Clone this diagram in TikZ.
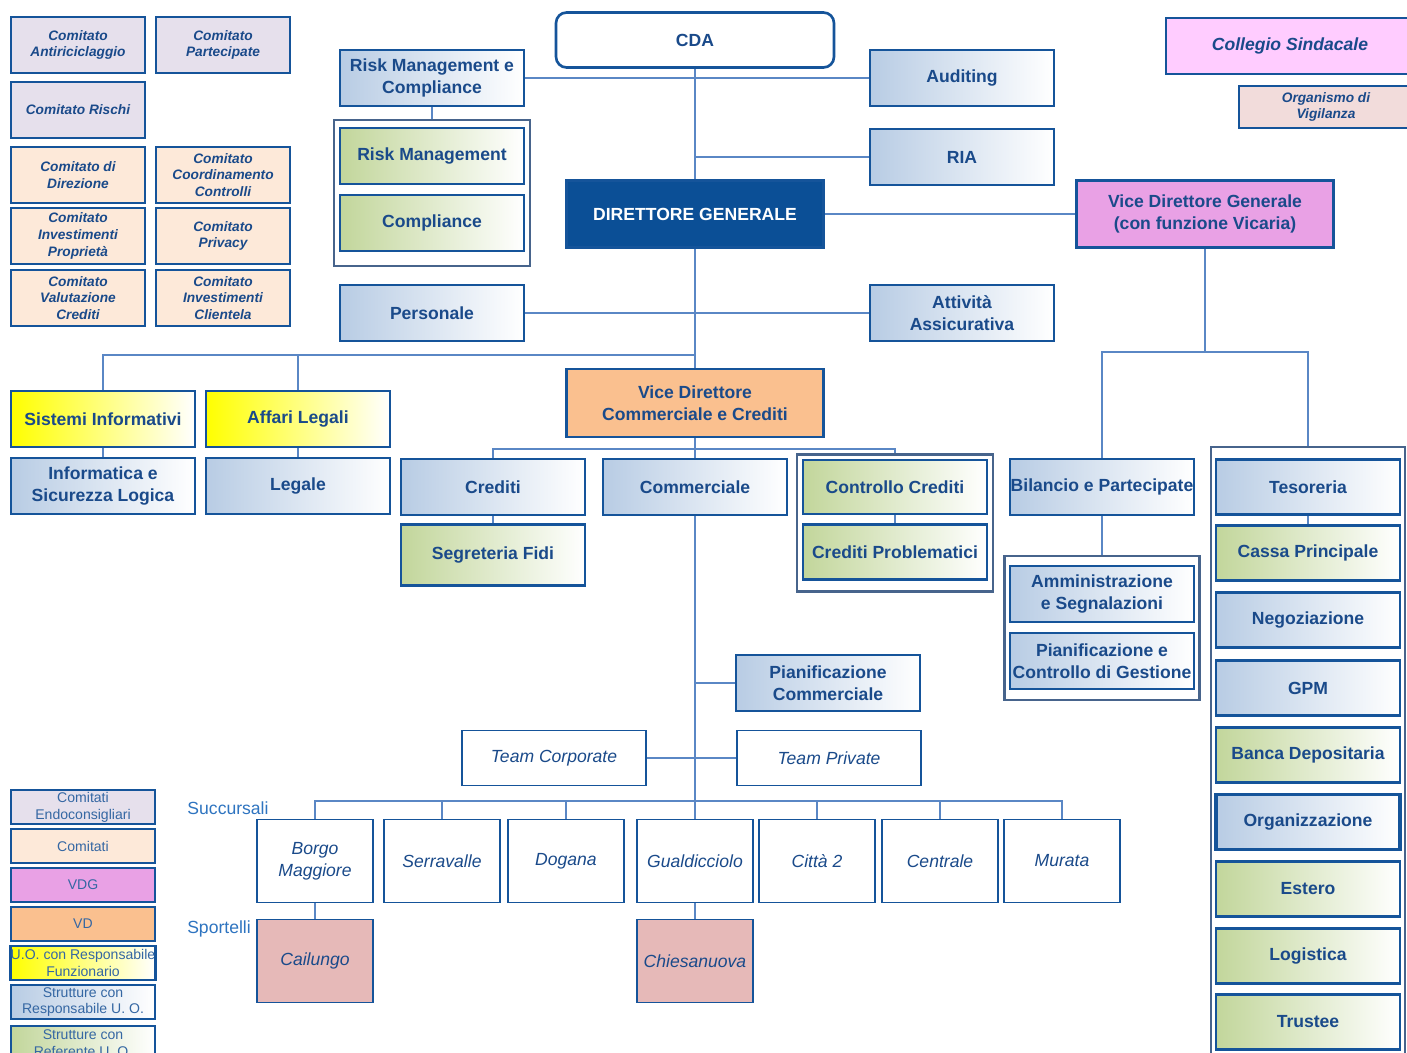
\documentclass[tikz,border=0pt]{standalone}
\usepackage{fontspec}
\setmainfont{Liberation Sans}
\definecolor{bordo}{HTML}{15549A}
\definecolor{testo}{HTML}{1A4A8A}
\definecolor{legtesto}{HTML}{3567A3}
\definecolor{linea}{HTML}{5A87C5}
\definecolor{grigio}{HTML}{47648C}
\definecolor{azz}{HTML}{B8CCE4}
\definecolor{verde}{HTML}{C2D69B}
\definecolor{giallo}{HTML}{FFFF00}
\definecolor{lavanda}{HTML}{E6E0EC}
\definecolor{pesca}{HTML}{FDE9D9}
\definecolor{orchidea}{HTML}{E9A1E5}
\definecolor{arancio}{HTML}{FAC08F}
\definecolor{rosa}{HTML}{FFCCFF}
\definecolor{odv}{HTML}{F2DCDB}
\definecolor{sportello}{HTML}{E6B9B8}
\definecolor{dgblu}{HTML}{0B4F96}
\definecolor{etich}{HTML}{2E74C0}

\begin{document}
\begin{tikzpicture}[x=0.02cm,y=-0.02cm]
	\tikzstyle{unita}=[draw=bordo,line width=1.5pt,minimum width=3.68cm,minimum height=1.12cm,inner xsep=0pt,align=center,text=testo,font=\fontsize{10}{12.5}\selectfont\bfseries]
	\tikzstyle{resp}=[unita,left color=azz,right color=white]
	\tikzstyle{refe}=[unita,left color=verde,right color=white]
	\tikzstyle{funz}=[unita,left color=giallo,right color=white]
	\tikzstyle{vertice}=[unita,minimum width=5.14cm,minimum height=1.34cm]
	\tikzstyle{comi}=[draw=bordo,line width=1.5pt,minimum width=2.68cm,minimum height=1.12cm,inner sep=0pt,align=center,text=testo,font=\fontsize{7.8}{9.6}\selectfont\bfseries\itshape]
	\tikzstyle{team}=[draw=bordo,line width=1.1pt,fill=white,minimum width=3.68cm,minimum height=1.1cm,text=testo,font=\fontsize{10}{12.5}\selectfont\itshape]
	\tikzstyle{filiale}=[draw=bordo,line width=1.1pt,fill=white,minimum width=2.32cm,minimum height=1.66cm,inner sep=0pt,align=center,text=testo,font=\fontsize{10}{12.5}\selectfont\itshape]
	\tikzstyle{gruppo}=[draw=grigio,line width=1.3pt,fill=white]
	\tikzstyle{legenda}=[draw=bordo,line width=1.5pt,minimum width=2.88cm,minimum height=0.68cm,inner sep=0pt,align=center,text=legtesto,font=\fontsize{8}{9.6}\selectfont]
	\tikzstyle{link}=[draw=linea,line width=1pt]

	\clip (0,0) rectangle (1407,1053);
	\fill[white] (0,0) rectangle (1407,1053);

	% comitati
	\node[comi,fill=lavanda] (cAnti) at (78,45) {Comitato\\Antiriciclaggio};
	\node[comi,fill=lavanda] (cPart) at (223,45) {Comitato\\Partecipate};
	\node[comi,fill=lavanda] (cRischi) at (78,110) {Comitato Rischi};
	\node[comi,fill=pesca] (cDir) at (78,175) {Comitato di\\Direzione};
	\node[comi,fill=pesca] (cCoord) at (223,175) {Comitato\\Coordinamento\\Controlli};
	\node[comi,fill=pesca] (cInvP) at (78,236) {Comitato\\Investimenti\\Propriet\`a};
	\node[comi,fill=pesca] (cPriv) at (223,236) {Comitato\\Privacy};
	\node[comi,fill=pesca] (cValC) at (78,298) {Comitato\\Valutazione\\Crediti};
	\node[comi,fill=pesca] (cInvC) at (223,298) {Comitato\\Investimenti\\Clientela};

	% vertice
	\node[unita,fill=white,rounded corners=6pt,minimum width=5.56cm,minimum height=1.1cm] (CDA) at (695,40) {CDA};
	\node[vertice,fill=dgblu,text=white] (DG) at (695,214) {DIRETTORE GENERALE};
	\node[vertice,fill=orchidea] (VDG) at (1205,214) {Vice Direttore Generale\\(con funzione Vicaria)};
	\node[vertice,fill=arancio,minimum height=1.36cm] (VD) at (695,403) {Vice Direttore\\Commerciale e Crediti};
	\node[unita,fill=rosa,minimum width=4.96cm,font=\fontsize{10}{12.5}\selectfont\bfseries\itshape] (CS) at (1290,46) {Collegio Sindacale};
	\node[comi,fill=odv,minimum width=3.48cm,minimum height=0.84cm] (OdV) at (1326,107) {Organismo di\\Vigilanza};

	% staff
	\node[resp] (RMC) at (432,78) {Risk Management e\\Compliance};
	\node[gruppo,minimum width=3.92cm,minimum height=2.92cm] (gRischi) at (432,193) {};
	\node[refe] (RiskM) at (432,156) {Risk Management};
	\node[refe] (Compl) at (432,223) {Compliance};
	\node[resp] (Pers) at (432,313) {Personale};
	\node[resp] (Aud) at (962,78) {Auditing};
	\node[resp] (RIA) at (962,157) {RIA};
	\node[resp] (Assic) at (962,313) {Attivit\`a\\Assicurativa};

	% area sinistra
	\node[funz] (SistInf) at (103,419) {Sistemi Informativi};
	\node[funz] (AffLeg) at (298,419) {Affari Legali};
	\node[resp] (InfSic) at (103,486) {Informatica e\\Sicurezza Logica};
	\node[resp] (Leg) at (298,486) {Legale};

	% area commerciale e crediti
	\node[resp] (Cred) at (493,487) {Crediti};
	\node[refe,minimum height=1.22cm] (SegrF) at (493,555) {Segreteria Fidi};
	\node[resp] (Comm) at (695,487) {Commerciale};
	\node[gruppo,minimum width=3.92cm,minimum height=2.74cm] (gCred) at (895,523) {};
	\node[refe,minimum height=1.08cm] (ContrC) at (895,487) {Controllo Crediti};
	\node[refe,minimum height=1.1cm] (CredP) at (895,552) {Crediti Problematici};
	\node[resp] (PianC) at (828,683) {Pianificazione\\Commerciale};
	\node[team] (TCorp) at (554,758) {Team Corporate};
	\node[team] (TPriv) at (829,758) {Team Private};

	% succursali e sportelli
	\node[text=etich,font=\fontsize{10}{12}\selectfont] (lblSucc) at (228,808) {Succursali};
	\node[text=etich,font=\fontsize{10}{12}\selectfont] (lblSport) at (219,929) {Sportelli};
	\node[filiale] (Borgo) at (315,861) {Borgo\\Maggiore};
	\node[filiale] (Serr) at (442,861) {Serravalle};
	\node[filiale] (Dog) at (566,861) {Dogana};
	\node[filiale] (Gual) at (695,861) {Gualdicciolo};
	\node[filiale] (Citta) at (817,861) {Citt\`a 2};
	\node[filiale] (Centr) at (940,861) {Centrale};
	\node[filiale] (Mur) at (1062,861) {Murata};
	\node[filiale,fill=sportello] (Cail) at (315,961) {Cailungo};
	\node[filiale,fill=sportello] (Chies) at (695,961) {Chiesanuova};

	% area VDG
	\node[resp] (Bil) at (1102,487) {Bilancio e Partecipate};
	\node[gruppo,minimum width=3.9cm,minimum height=2.88cm] (gBil) at (1102,628) {};
	\node[resp] (Amm) at (1102,594) {Amministrazione\\e Segnalazioni};
	\node[resp] (PCG) at (1102,661) {Pianificazione e\\Controllo di Gestione};
	\node[gruppo,minimum width=3.88cm,minimum height=12.36cm] (gDx) at (1308,756) {};
	\node[resp,minimum height=1.1cm] (Tes) at (1308,487) {Tesoreria};
	\node[refe,minimum height=1.1cm] (Cassa) at (1308,553) {Cassa Principale};
	\node[resp,minimum height=1.1cm] (Neg) at (1308,620) {Negoziazione};
	\node[resp,minimum height=1.1cm] (GPM) at (1308,688) {GPM};
	\node[refe,minimum height=1.1cm] (BDep) at (1308,755) {Banca Depositaria};
	\node[resp,minimum height=1.1cm,line width=2pt] (Org) at (1308,822) {Organizzazione};
	\node[refe,minimum height=1.1cm] (Est) at (1308,889) {Estero};
	\node[refe,minimum height=1.1cm] (Log) at (1308,956) {Logistica};
	\node[refe,minimum height=1.1cm] (Trus) at (1308,1022) {Trustee};

	% legenda
	\node[legenda,fill=lavanda] (legEndo) at (83,807) {Comitati\\Endoconsigliari};
	\node[legenda,fill=pesca] (legCom) at (83,846) {Comitati};
	\node[legenda,fill=orchidea] (legVDG) at (83,885) {VDG};
	\node[legenda,fill=arancio] (legVD) at (83,924) {VD};
	\node[legenda,left color=giallo,right color=white] (legFunz) at (83,963) {U.O. con Responsabile\\Funzionario};
	\node[legenda,left color=azz,right color=white] (legResp) at (83,1002) {Strutture con\\Responsabile U. O.};
	\node[legenda,left color=verde,right color=white] (legRef) at (83,1043) {Strutture con\\Referente U. O.};

	% collegamenti
	\path[link] (CDA) -- (DG);
	\path[link] (DG) -- (VD);
	\path[link] (RMC) -- (Aud);
	\path[link] (RIA.west) -- (RIA.west -| CDA.south);
	\path[link] (DG) -- (VDG);
	\path[link] (Pers) -- (Assic);
	\path[link] (RMC) -- (gRischi);

	\coordinate (nodoSx) at (695,355);
	\path[link] (nodoSx) -| (SistInf.north);
	\path[link] (AffLeg.north) -- (AffLeg.north |- nodoSx);
	\path[link] (SistInf) -- (InfSic);
	\path[link] (AffLeg) -- (Leg);

	\coordinate (nodoVD) at (695,449);
	\path[link] (Cred.north) |- (nodoVD) -| (gCred.north);
	\path[link] (VD) -- (Comm);
	\path[link] (Cred) -- (SegrF);
	\path[link] (ContrC) -- (CredP);
	\path[link] (Comm) -- (Gual);
	\path[link] (PianC.west) -- (PianC.west -| Comm.south);
	\path[link] (TCorp) -- (TPriv);

	\coordinate (nodoFil) at (695,801);
	\path[link] (Borgo.north) |- (nodoFil) -| (Mur.north);
	\foreach \f in {Serr,Dog,Citta,Centr}
		\path[link] (\f.north) -- (\f.north |- nodoFil);
	\path[link] (Borgo) -- (Cail);
	\path[link] (Gual) -- (Chies);

	\coordinate (nodoDx) at (1205,352);
	\path[link] (VDG) -- (nodoDx);
	\path[link] (Bil.north) |- (nodoDx) -| (gDx.north);
	\path[link] (Bil) -- (gBil);
	\path[link] (Tes) -- (Cassa);
\end{tikzpicture}
\end{document}
